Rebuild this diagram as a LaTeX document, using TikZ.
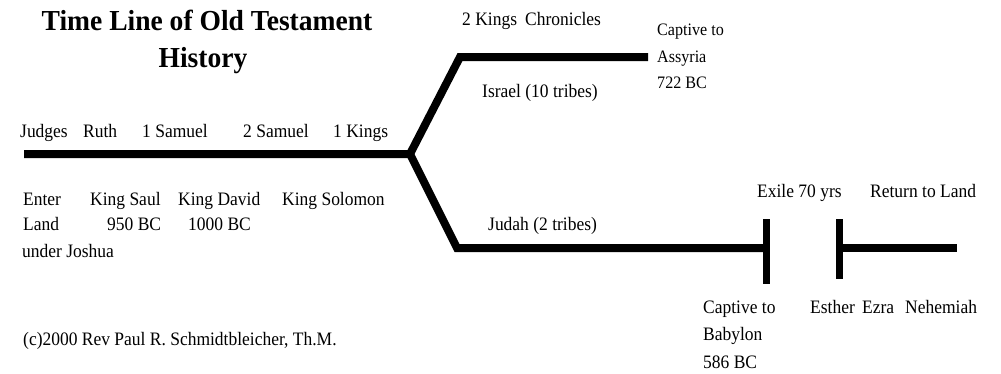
\documentclass[tikz,border=0pt]{standalone}
\usepackage{fontspec}
\setmainfont{Liberation Serif}
\newfontfamily\bodyfont[FakeStretch=0.92]{Liberation Serif}
\newfontfamily\titlefont[FakeStretch=0.95]{Liberation Serif}
\begin{document}
\begin{tikzpicture}[x=1pt,y=-1pt,
  lbl/.style={inner sep=0pt, anchor=base west, font=\bodyfont\fontsize{19}{22}\selectfont},
  slbl/.style={inner sep=0pt, anchor=base west, font=\bodyfont\fontsize{17.5}{21}\selectfont},
  ttl/.style={inner sep=0pt, anchor=base, font=\titlefont\fontsize{29}{34}\selectfont\bfseries},
  tline/.style={line width=8pt, line join=miter, line cap=butt}]
\useasboundingbox[fill=white] (0,0) rectangle (1001,373);
% title
\node[ttl] (t1) at (207,30) {Time Line of Old Testament};
\node[ttl] (t2) at (203,67) {History};
% timeline coordinates
\coordinate (s) at (24,154);
\coordinate (b) at (410,154);
\coordinate (u1) at (460,57);
\coordinate (u2) at (648,57);
\coordinate (l1) at (457,248);
\coordinate (l2) at (766,248);
\coordinate (bar1t) at (766,219);
\coordinate (bar1b) at (766,284);
\coordinate (bar2t) at (839,219);
\coordinate (bar2b) at (839,279);
\coordinate (bar2m) at (839,248);
\coordinate (r2) at (957,248);
\draw[tline] (s) -- (b) -- (u1) -- (u2);
\draw[tline] (b) -- (l1) -- (l2);
\draw[line width=7pt] (bar1t) -- (bar1b);
\draw[line width=7pt] (bar2t) -- (bar2b);
\draw[tline] (bar2m) -- (r2);
% labels above main line
\node[lbl] (judges) at (20,137) {Judges};
\node[lbl] (ruth) at (83,137) {Ruth};
\node[lbl] (sam1) at (142,137) {1 Samuel};
\node[lbl] (sam2) at (243,137) {2 Samuel};
\node[lbl] (kings1) at (333,137) {1 Kings};
% labels below main line
\node[lbl] (enter) at (23,205) {Enter};
\node[lbl] (saul) at (90,205) {King Saul};
\node[lbl] (david) at (178,205) {King David};
\node[lbl] (solomon) at (282,205) {King Solomon};
\node[lbl] (land) at (23,230) {Land};
\node[lbl] (d950) at (107,230) {950 BC};
\node[lbl] (d1000) at (188,230) {1000 BC};
\node[lbl] (joshua) at (22,257) {under Joshua};
\node[lbl] (copy) at (23,345) {(c)2000 Rev Paul R. Schmidtbleicher, Th.M.};
% upper branch
\node[lbl] (kings2) at (462,25) {2 Kings};
\node[lbl] (chron) at (525,25) {Chronicles};
\node[slbl] (capA) at (657,35) {Captive to};
\node[slbl] (assyria) at (657,62) {Assyria};
\node[slbl] (d722) at (657,88) {722 BC};
\node[lbl] (israel) at (482,97) {Israel (10 tribes)};
% lower branch
\node[lbl] (judah) at (488,230) {Judah (2 tribes)};
\node[lbl] (exile) at (757,197) {Exile 70 yrs};
\node[lbl] (ret) at (870,197) {Return to Land};
\node[lbl] (capB) at (703,313) {Captive to};
\node[lbl] (babylon) at (703,340) {Babylon};
\node[lbl] (d586) at (703,368) {586 BC};
\node[lbl] (esther) at (810,313) {Esther};
\node[lbl] (ezra) at (862,313) {Ezra};
\node[lbl] (nehemiah) at (905,313) {Nehemiah};
\end{tikzpicture}
\end{document}
